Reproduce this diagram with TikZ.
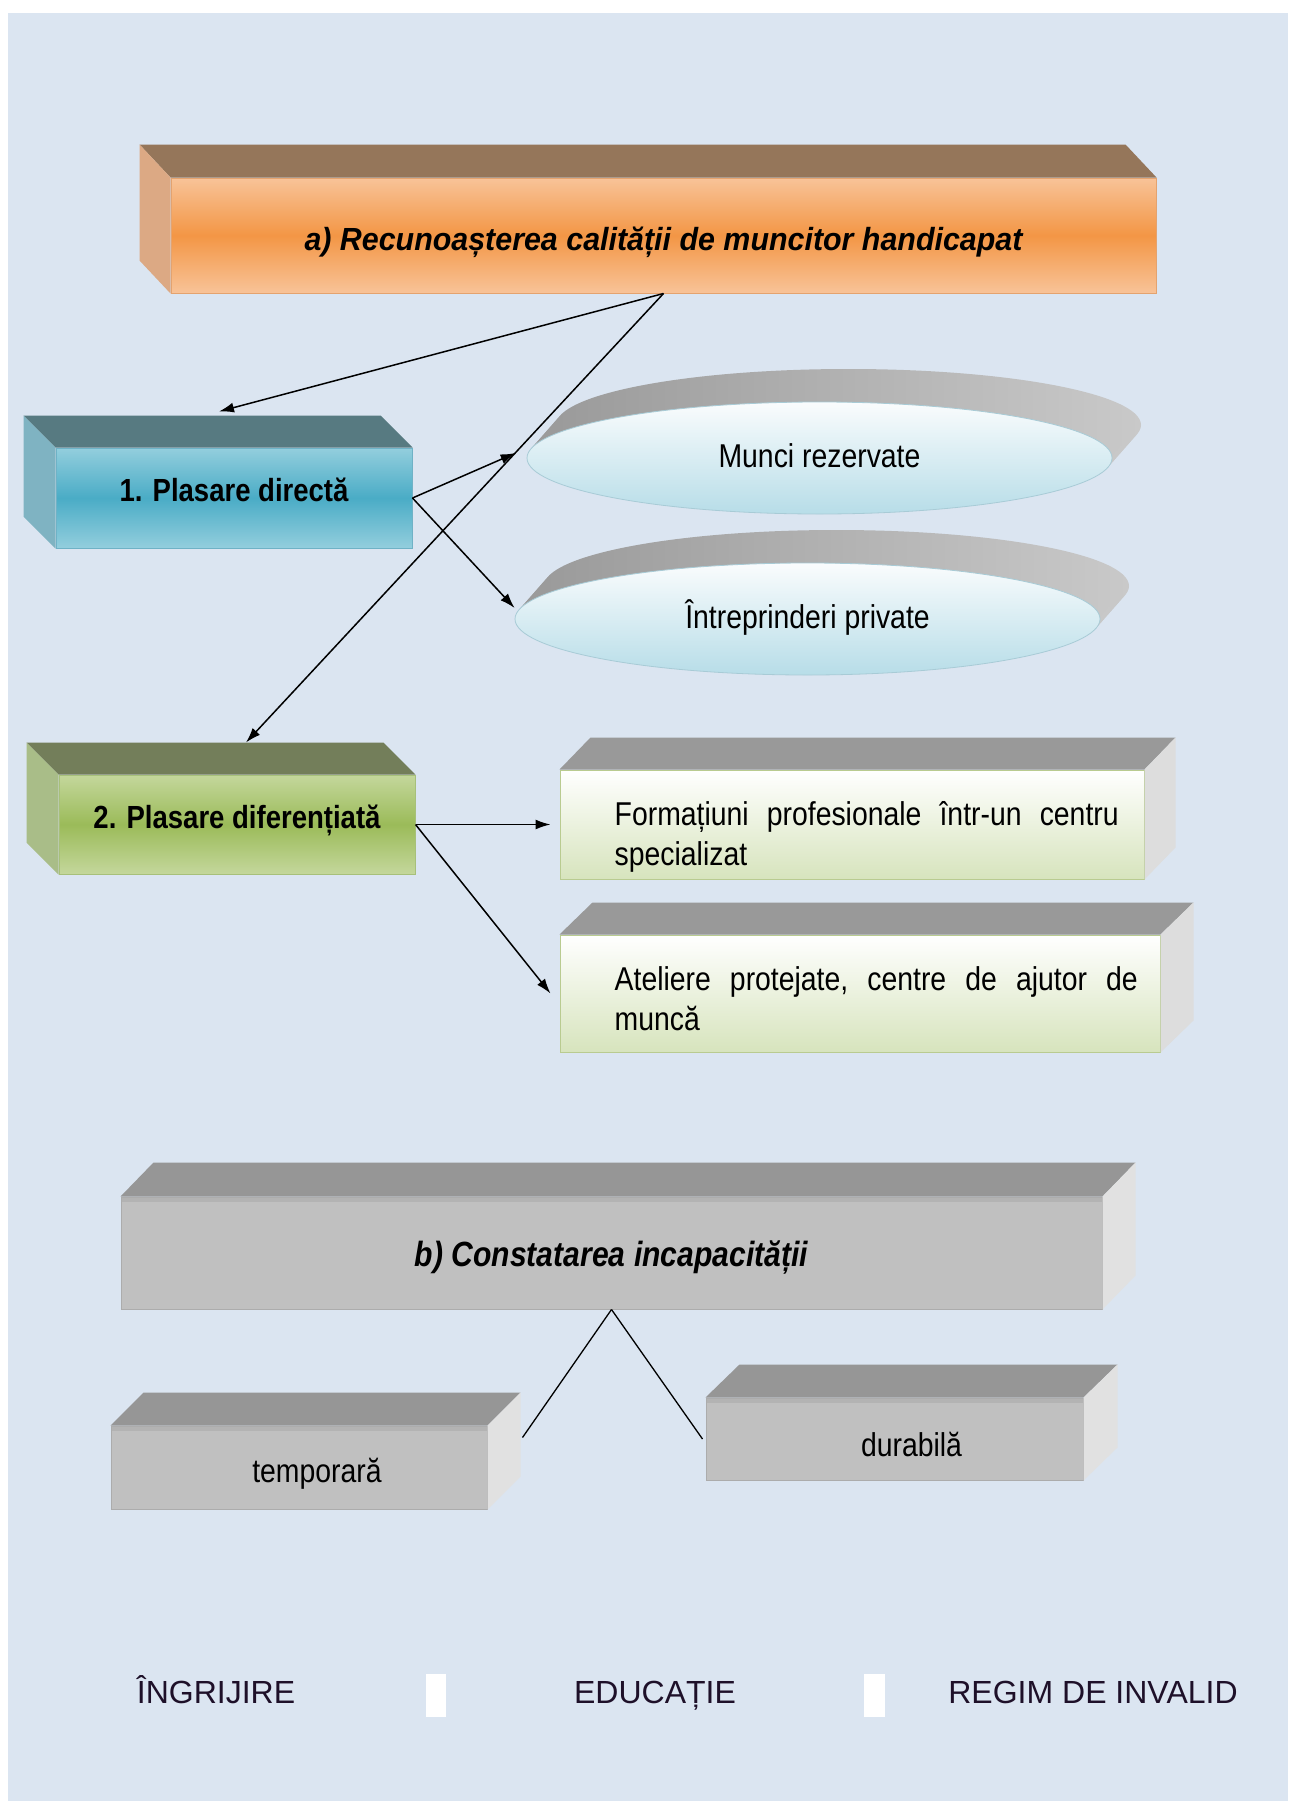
\documentclass[tikz,border=0pt]{standalone}
\usepackage{fontspec}
\setmainfont{Liberation Sans}
\newfontfamily\narrowsf{Liberation Sans}[FakeStretch=0.86]
\newfontfamily\titlesf{Liberation Sans}[FakeStretch=0.95]
\usetikzlibrary{calc,shapes.geometric,arrows.meta}

\definecolor{bgblue}{HTML}{DBE5F1}
\definecolor{orlight}{HTML}{F8C398}
\definecolor{ordark}{HTML}{F39645}
\definecolor{ortop}{HTML}{95765A}
\definecolor{orside}{HTML}{DCA984}
\definecolor{orline}{HTML}{E4A36F}
\definecolor{bllight}{HTML}{93CEDD}
\definecolor{bldark}{HTML}{4AACC6}
\definecolor{bltop}{HTML}{577A81}
\definecolor{blside}{HTML}{7FB3C2}
\definecolor{blline}{HTML}{6FB2C6}
\definecolor{grlight}{HTML}{C4D79C}
\definecolor{grdark}{HTML}{9BBB59}
\definecolor{grtop}{HTML}{737E5A}
\definecolor{grside}{HTML}{A9BD88}
\definecolor{grline}{HTML}{A7C07A}
\definecolor{palebot}{HTML}{D7E4BD}
\definecolor{paleline}{HTML}{B9CB90}
\definecolor{graytop}{HTML}{999999}
\definecolor{grayside}{HTML}{DDDDDD}
\definecolor{silver}{HTML}{C0C0C0}
\definecolor{silvtop}{HTML}{969696}
\definecolor{silvside}{HTML}{E1E1E1}
\definecolor{silvline}{HTML}{ACACAC}
\definecolor{silvband}{HTML}{B3B3B3}
\definecolor{discback}{HTML}{9B9B9B}
\definecolor{discshine}{HTML}{C9C9C9}
\definecolor{disctop}{HTML}{FAFCFD}
\definecolor{discbot}{HTML}{B7DDE8}
\definecolor{discline}{HTML}{A8CBD6}
\definecolor{footink}{HTML}{1E1029}

\begin{document}
\begin{tikzpicture}[x=1pt,y=-1pt,
  face/.style={rectangle,inner sep=0pt},
  orangefront/.style={face,top color=orlight,bottom color=orlight,middle color=ordark,draw=orline,line width=1pt},
  bluefront/.style={face,top color=bllight,bottom color=bllight,middle color=bldark,draw=blline,line width=1pt},
  greenfront/.style={face,top color=grlight,bottom color=grlight,middle color=grdark,draw=grline,line width=1pt},
  palefront/.style={face,top color=white,bottom color=palebot,draw=paleline,line width=1pt},
  grayfront/.style={face,fill=silver,draw=silvline,line width=1pt,
    path picture={\fill[silvband] (path picture bounding box.north west) rectangle ([yshift=-5pt]path picture bounding box.north east);}},
  disc/.style={ellipse,inner sep=0pt,minimum width=585pt,minimum height=112pt,top color=disctop,bottom color=discbot,draw=discline,line width=0.8pt,text height=25pt,text depth=7pt},
  rim/.style={left color=discback,right color=discshine},
  titletext/.style={font=\titlesf\bfseries\itshape\fontsize{32}{38}\selectfont,text height=31pt,text depth=2pt},
  headtext/.style={font=\narrowsf\bfseries\fontsize{32}{38}\selectfont,text height=24pt,text depth=17pt},
  plaintext/.style={font=\narrowsf\fontsize{33}{40}\selectfont},
  foottext/.style={font=\fontsize{32}{38}\selectfont,text=footink,anchor=base},
  arr/.style={-{Latex[length=15pt,width=10pt]},line width=1.5pt},
  link/.style={line width=1.3pt}]
\useasboundingbox (0,0) rectangle (1290,1801);
\fill[bgblue] (8,13) rectangle (1288,1801);
\newcommand{\boxfaces}[6]{\fill[#4] (#1.north west) -- (#1.north east) -- ++(#2,#3) -- ($(#1.north west)+(#2,#3)$) -- cycle;
  \fill[#5] (#1.north #6) -- (#1.south #6) -- ++(#2,#3) -- ($(#1.north #6)+(#2,#3)$) -- cycle;}

\node[orangefront,minimum width=985pt,minimum height=115pt,titletext] (recog) at (663.5,235.5) {a) Recunoașterea calității de muncitor handicapat};
\boxfaces{recog}{-31}{-33}{ortop}{orside}{west}

\node[bluefront,minimum width=356pt,minimum height=100pt,headtext] (direct) at (234,498) {1. Plasare directă};
\boxfaces{direct}{-32}{-32}{bltop}{blside}{west}
\node[greenfront,minimum width=356pt,minimum height=99pt,headtext] (diff) at (237,824.5) {2. Plasare diferențiată};
\boxfaces{diff}{-32}{-32}{grtop}{grside}{west}

\foreach \t in {1,...,12} {
  \shade[rim] ($(819.5,458)+(\t*29/12,-\t*33/12)$) ellipse [x radius=292.5, y radius=56];
  \shade[rim] ($(807.5,619)+(\t*29/12,-\t*33/12)$) ellipse [x radius=292.5, y radius=56];
}
\node[disc,plaintext] (munci) at (819.5,458) {Munci rezervate};
\node[disc,plaintext] (prive) at (807.5,619) {Întreprinderi private};

\node[palefront,minimum width=584pt,minimum height=109pt] (form) at (852,824.5) {};
\boxfaces{form}{31}{-32}{graytop}{grayside}{east}
\node[plaintext,anchor=west,inner sep=0pt,text width=504pt,align=left] (formtext) at ([xshift=55pt,yshift=-12pt]form.west) {\makebox[504pt][s]{Formațiuni\hfill profesionale\hfill într-un\hfill centru}\\specializat};
\node[palefront,minimum width=600pt,minimum height=117pt] (atel) at (860,993.5) {};
\boxfaces{atel}{33}{-32}{graytop}{grayside}{east}
\node[plaintext,anchor=west,inner sep=0pt,text width=523pt,align=left] (ateltext) at ([xshift=55pt,yshift=-5pt]atel.west) {\makebox[523pt][s]{Ateliere\hfill protejate,\hfill centre\hfill de\hfill ajutor\hfill de}\\muncă};

\node[grayfront,minimum width=981pt,minimum height=112pt,font=\narrowsf\bfseries\itshape\fontsize{35}{40}\selectfont,text height=28pt,text depth=2pt] (incap) at (611.5,1253) {b) Constatarea incapacității};
\boxfaces{incap}{33}{-34}{silvtop}{silvside}{east}
\node[grayfront,minimum width=376pt,minimum height=83pt] (temp) at (299,1467.5) {};
\boxfaces{temp}{33}{-33}{silvtop}{silvside}{east}
\node[plaintext] (temptext) at ($(temp.center)+(18,6)$) {temporară};
\node[grayfront,minimum width=377pt,minimum height=82pt] (dur) at (894.5,1439) {};
\boxfaces{dur}{34}{-33}{silvtop}{silvside}{east}
\node[plaintext] (durtext) at ($(dur.center)+(17,5)$) {durabilă};

\coordinate (directtop) at ($(direct.north)+(-15,-36)$);
\coordinate (difftop) at ($(diff.north)+(9,-32)$);
\coordinate (tempside) at ($(temp.east)+(35,-30)$);
\draw[arr] (recog.south) -- (directtop);
\draw[arr] (recog.south) -- (difftop);
\draw[arr] (direct.east) -- ([xshift=-11pt,yshift=5pt]munci.west);
\draw[arr] (direct.east) -- ([yshift=11pt]prive.west);
\draw[arr] (diff.east) -- ([xshift=-9pt]form.west);
\draw[arr] (diff.east) -- ([xshift=-9pt]atel.west);
\draw[link] (incap.south) -- (tempside);
\draw[link] (incap.south) -- ([xshift=-3pt]dur.west);

\node[foottext] (care) at (216,1703) {ÎNGRIJIRE};
\node[foottext] (educ) at (655,1703) {EDUCAȚIE};
\node[foottext] (regim) at (1093,1703) {REGIM DE INVALID};
\fill[white] (426,1674) rectangle (446,1717);
\fill[white] (864,1674) rectangle (885,1717);
\end{tikzpicture}
\end{document}
